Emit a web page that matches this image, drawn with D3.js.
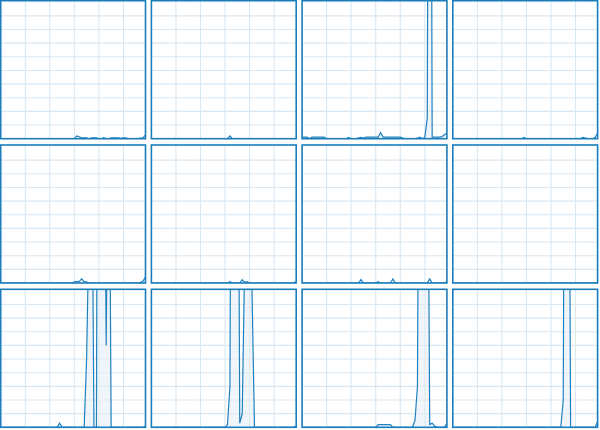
<!DOCTYPE html>
<html>
<head>
<meta charset="utf-8">
<script src="https://cdn.jsdelivr.net/npm/d3@7"></script>
<style>
  html, body { margin: 0; padding: 0; background: #ffffff; }
  svg { display: block; }
</style>
</head>
<body>
<svg id="chart" width="600" height="430"></svg>
<script>
// ---- data (60 samples per panel, values in grid units; plot shows 0..10) ----
const xTickValues = [10, 20, 30, 40, 50];
const yTickValues = [1, 2, 3, 4, 5, 6, 7, 8, 9];

const s1 = [0,0,0,0,0,0,0,0,0,0, 0,0,0,0,0,0,0,0,0,0, 0,0,0,0,0,0,0,0,0,0,
  0,0.2,0.14,0.07,0.07,0.07,0,0.07,0.07,0.07, 0,0,0.07,0,0,0.07,0.07,0.07,0.07,0.03,
  0.07,0.07,0,0,0,0,0,0.05,0.07,0.25];
const s2 = [0,0,0,0,0,0,0,0,0,0, 0,0,0,0,0,0,0,0,0,0, 0,0,0,0,0,0,0,0,0,0,
  0,0,0.2,0,0,0,0,0,0,0, 0,0,0,0,0,0,0,0,0,0, 0,0,0,0,0,0,0,0,0,0];
const s3 = [0.12,0.12,0.12,0,0.12,0.12,0.12,0.12,0.12,0.12, 0,0,0,0,0,0,0,0,0,0.1,
  0,0,0,0.05,0.1,0.05,0.12,0.12,0.12,0.12, 0.12,0.12,0.45,0.12,0.12,0.12,0.12,0.12,0.12,0.12,
  0.12,0.04,0,0,0,0,0,0.05,0.12,0, 0.1,1.5,60,0.12,0.12,0.12,0.12,0.15,0.3,0.4];
const s4 = [0,0,0,0,0,0,0,0,0,0, 0,0,0,0,0,0,0,0,0,0, 0,0,0,0,0,0,0,0,0,0.1,
  0,0,0,0,0,0,0,0,0,0, 0,0,0,0,0,0,0,0,0,0, 0,0,0,0.1,0.05,0,0,0,0.1,0.4];
const s5 = [0,0,0,0,0,0,0,0,0,0, 0,0,0,0,0,0,0,0,0,0, 0,0,0,0,0,0,0,0,0,0,
  0.08,0.1,0.12,0.3,0.1,0.08,0,0,0,0, 0,0,0,0,0,0,0,0,0,0, 0,0,0,0,0,0,0,0.05,0.15,0.45];
const s6 = [0,0,0,0,0,0,0,0,0,0, 0,0,0,0,0,0,0,0,0,0, 0,0,0,0,0,0,0,0,0,0,
  0,0,0.1,0,0,0,0,0.25,0.05,0.1, 0,0,0,0,0,0,0,0,0,0, 0,0,0,0,0,0,0,0,0,0.1];
const s7 = [0,0,0,0,0,0,0,0,0,0, 0,0,0,0,0,0,0,0,0,0, 0,0,0,0,0.25,0,0,0,0,0,
  0,0.1,0,0,0,0,0,0.3,0,0, 0,0,0,0,0,0,0,0,0,0, 0,0,0.3,0,0,0,0,0,0,0.1];
const s8 = [0,0,0,0,0,0,0,0,0,0, 0,0,0,0,0,0,0,0,0,0, 0,0,0,0,0,0,0,0,0,0,
  0,0,0,0,0,0,0,0,0,0, 0,0,0,0,0,0,0,0,0,0, 0,0,0,0,0,0,0,0,0,0.05];
const s9 = [0,0,0,0,0,0,0,0,0,0, 0,0,0,0,0,0,0,0,0,0, 0,0,0,0,0.3,0,0,0,0,0,
  0,0,0,0,0,5,15,25,0,0, 60,45,30,6,30,0,0,0,0,0, 0,0,0,0,0,0,0,0,0,0.1];
const s10 = [0,0,0,0,0,0,0,0,0,0, 0,0,0,0,0,0,0,0,0,0, 0,0,0,0,0,0,0,0,0,0,
  0,0.2,3,50,45,40,0.3,1,12,40, 40,10,0,0,0,0,0,0,0,0, 0,0,0,0,0,0,0,0,0,0.1];
const s11 = [0,0,0,0,0,0,0,0,0,0, 0,0,0,0,0,0,0,0,0,0, 0,0,0,0,0,0,0,0,0,0,
  0,0.2,0.2,0.2,0.2,0.2,0.2,0,0,0, 0,0,0,0,0,0,0.5,3,40,40, 40,30,0.2,0.3,0.1,0,0,0,0,0.3];
const s12 = [0,0,0,0,0,0,0,0,0,0, 0,0,0,0,0,0,0,0,0,0, 0,0,0,0,0,0,0,0,0,0,
  0,0,0,0,0,0,0,0,0,0, 0,0,0,0,0,2,50,40,0,0, 0,0,0,0,0,0,0,0,0,0.4];

const seriesList = [s1, s2, s3, s4, s5, s6, s7, s8, s9, s10, s11, s12];

// ---- layout ----
const cols = 4;
const panelW = 144.8, panelH = 138;
const colStep = 150.7, rowStep = 144.3;
const plotTop = 1.5;

const svg = d3.select("#chart");

const x = d3.scaleLinear().domain([0, 59]).range([0, panelW]);
const y = d3.scaleLinear().domain([0, 10]).range([panelH, plotTop]);

const area = d3.area()
  .x((d, i) => x(i))
  .y0(y(0))
  .y1(d => y(d));
const line = d3.line()
  .x((d, i) => x(i))
  .y(d => y(d));

seriesList.forEach((series, k) => {
  const c = k % cols, r = Math.floor(k / cols);
  const g = svg.append("g")
    .attr("transform", `translate(${c * colStep + 0.7},${r * rowStep + 0.7})`);

  const clipId = "clip" + k;
  g.append("clipPath").attr("id", clipId)
    .append("rect").attr("x", 0).attr("y", 0)
    .attr("width", panelW).attr("height", panelH);

  // grid
  g.selectAll(".gx").data(xTickValues).enter().append("line")
    .attr("x1", d => x(d)).attr("x2", d => x(d))
    .attr("y1", 0).attr("y2", panelH)
    .attr("stroke", "#d8e7f2").attr("stroke-width", 1.1);
  g.selectAll(".gy").data(yTickValues).enter().append("line")
    .attr("x1", 0).attr("x2", panelW)
    .attr("y1", d => y(d)).attr("y2", d => y(d))
    .attr("stroke", "#d8e7f2").attr("stroke-width", 1.1);

  const plot = g.append("g").attr("clip-path", `url(#${clipId})`);
  plot.append("path").datum(series)
    .attr("d", area)
    .attr("fill", "#e4eef7").attr("fill-opacity", 0.6);
  plot.append("path").datum(series)
    .attr("d", line)
    .attr("fill", "none")
    .attr("stroke", "#1f80bf").attr("stroke-width", 1.2)
    .attr("stroke-linejoin", "miter");

  // frame
  g.append("rect")
    .attr("x", 0).attr("y", 0)
    .attr("width", panelW).attr("height", panelH)
    .attr("fill", "none")
    .attr("stroke", "#1a7dbb").attr("stroke-width", 1.6);
});
</script>
</body>
</html>
